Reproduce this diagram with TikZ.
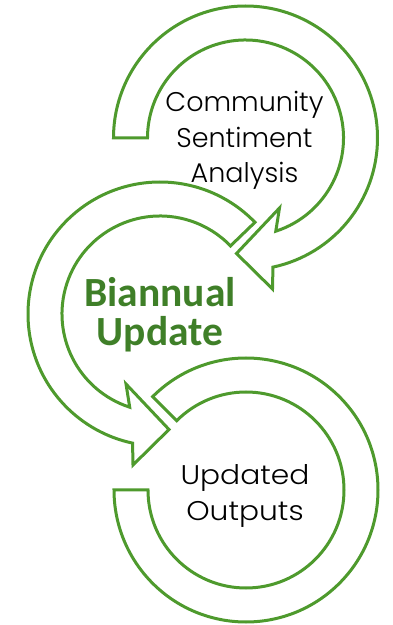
\documentclass[tikz,border=0pt]{standalone}
\usepackage{fontspec}
\IfFontExistsTF{Poppins Light}{\setmainfont{Poppins Light}}{\setmainfont{Poppins}}
\newfontfamily\calfont{Carlito}
\definecolor{ringgreen}{HTML}{4E9A2D}
\definecolor{textgreen}{HTML}{3F7F28}
\begin{document}
\begin{tikzpicture}[x=1pt,y=1pt,
  ring/.style={draw=ringgreen, line width=3pt, fill=white},
  lbl/.style={align=center, inner sep=0pt, text=black, font=\fontsize{27}{35.5}\selectfont},
  midlbl/.style={align=center, inner sep=0pt, text=textgreen, font=\calfont\bfseries\fontsize{41.5}{39}\selectfont}]
\useasboundingbox (0,0) rectangle (393,625);
% bottom ring
\begin{scope}[shift={(246,135)}]
  \draw[ring] (135:132) arc[start angle=135,end angle=-180,radius=132pt]
    -- (180:98) arc[start angle=-180,end angle=135,radius=98pt] -- cycle;
\end{scope}
% middle ring
\begin{scope}[shift={(160,311)}]
  \draw[ring] (44:132) arc[start angle=44,end angle=258,radius=132pt]
    -- (-27,-151) -- (9,-115.5) -- (-34,-70)
    -- (252:98) arc[start angle=252,end angle=44,radius=98pt] -- cycle;
\end{scope}
% top ring
\begin{scope}[shift={(245.5,487)}]
  \draw[ring] (180:132) arc[start angle=180,end angle=-78,radius=132pt]
    -- (27,-151) -- (-9,-115.5) -- (34,-70)
    -- (-72:98) arc[start angle=-72,end angle=180,radius=98pt] -- cycle;
\end{scope}
\node[lbl] (csa) at (244.5,484.5) {Community\\Sentiment\\Analysis};
\node[midlbl] (bu) at (160,310) {Biannual\\Update};
\node[lbl, xscale=1.1] (uo) at (245,129) {Updated\\Outputs};
\end{tikzpicture}
\end{document}
